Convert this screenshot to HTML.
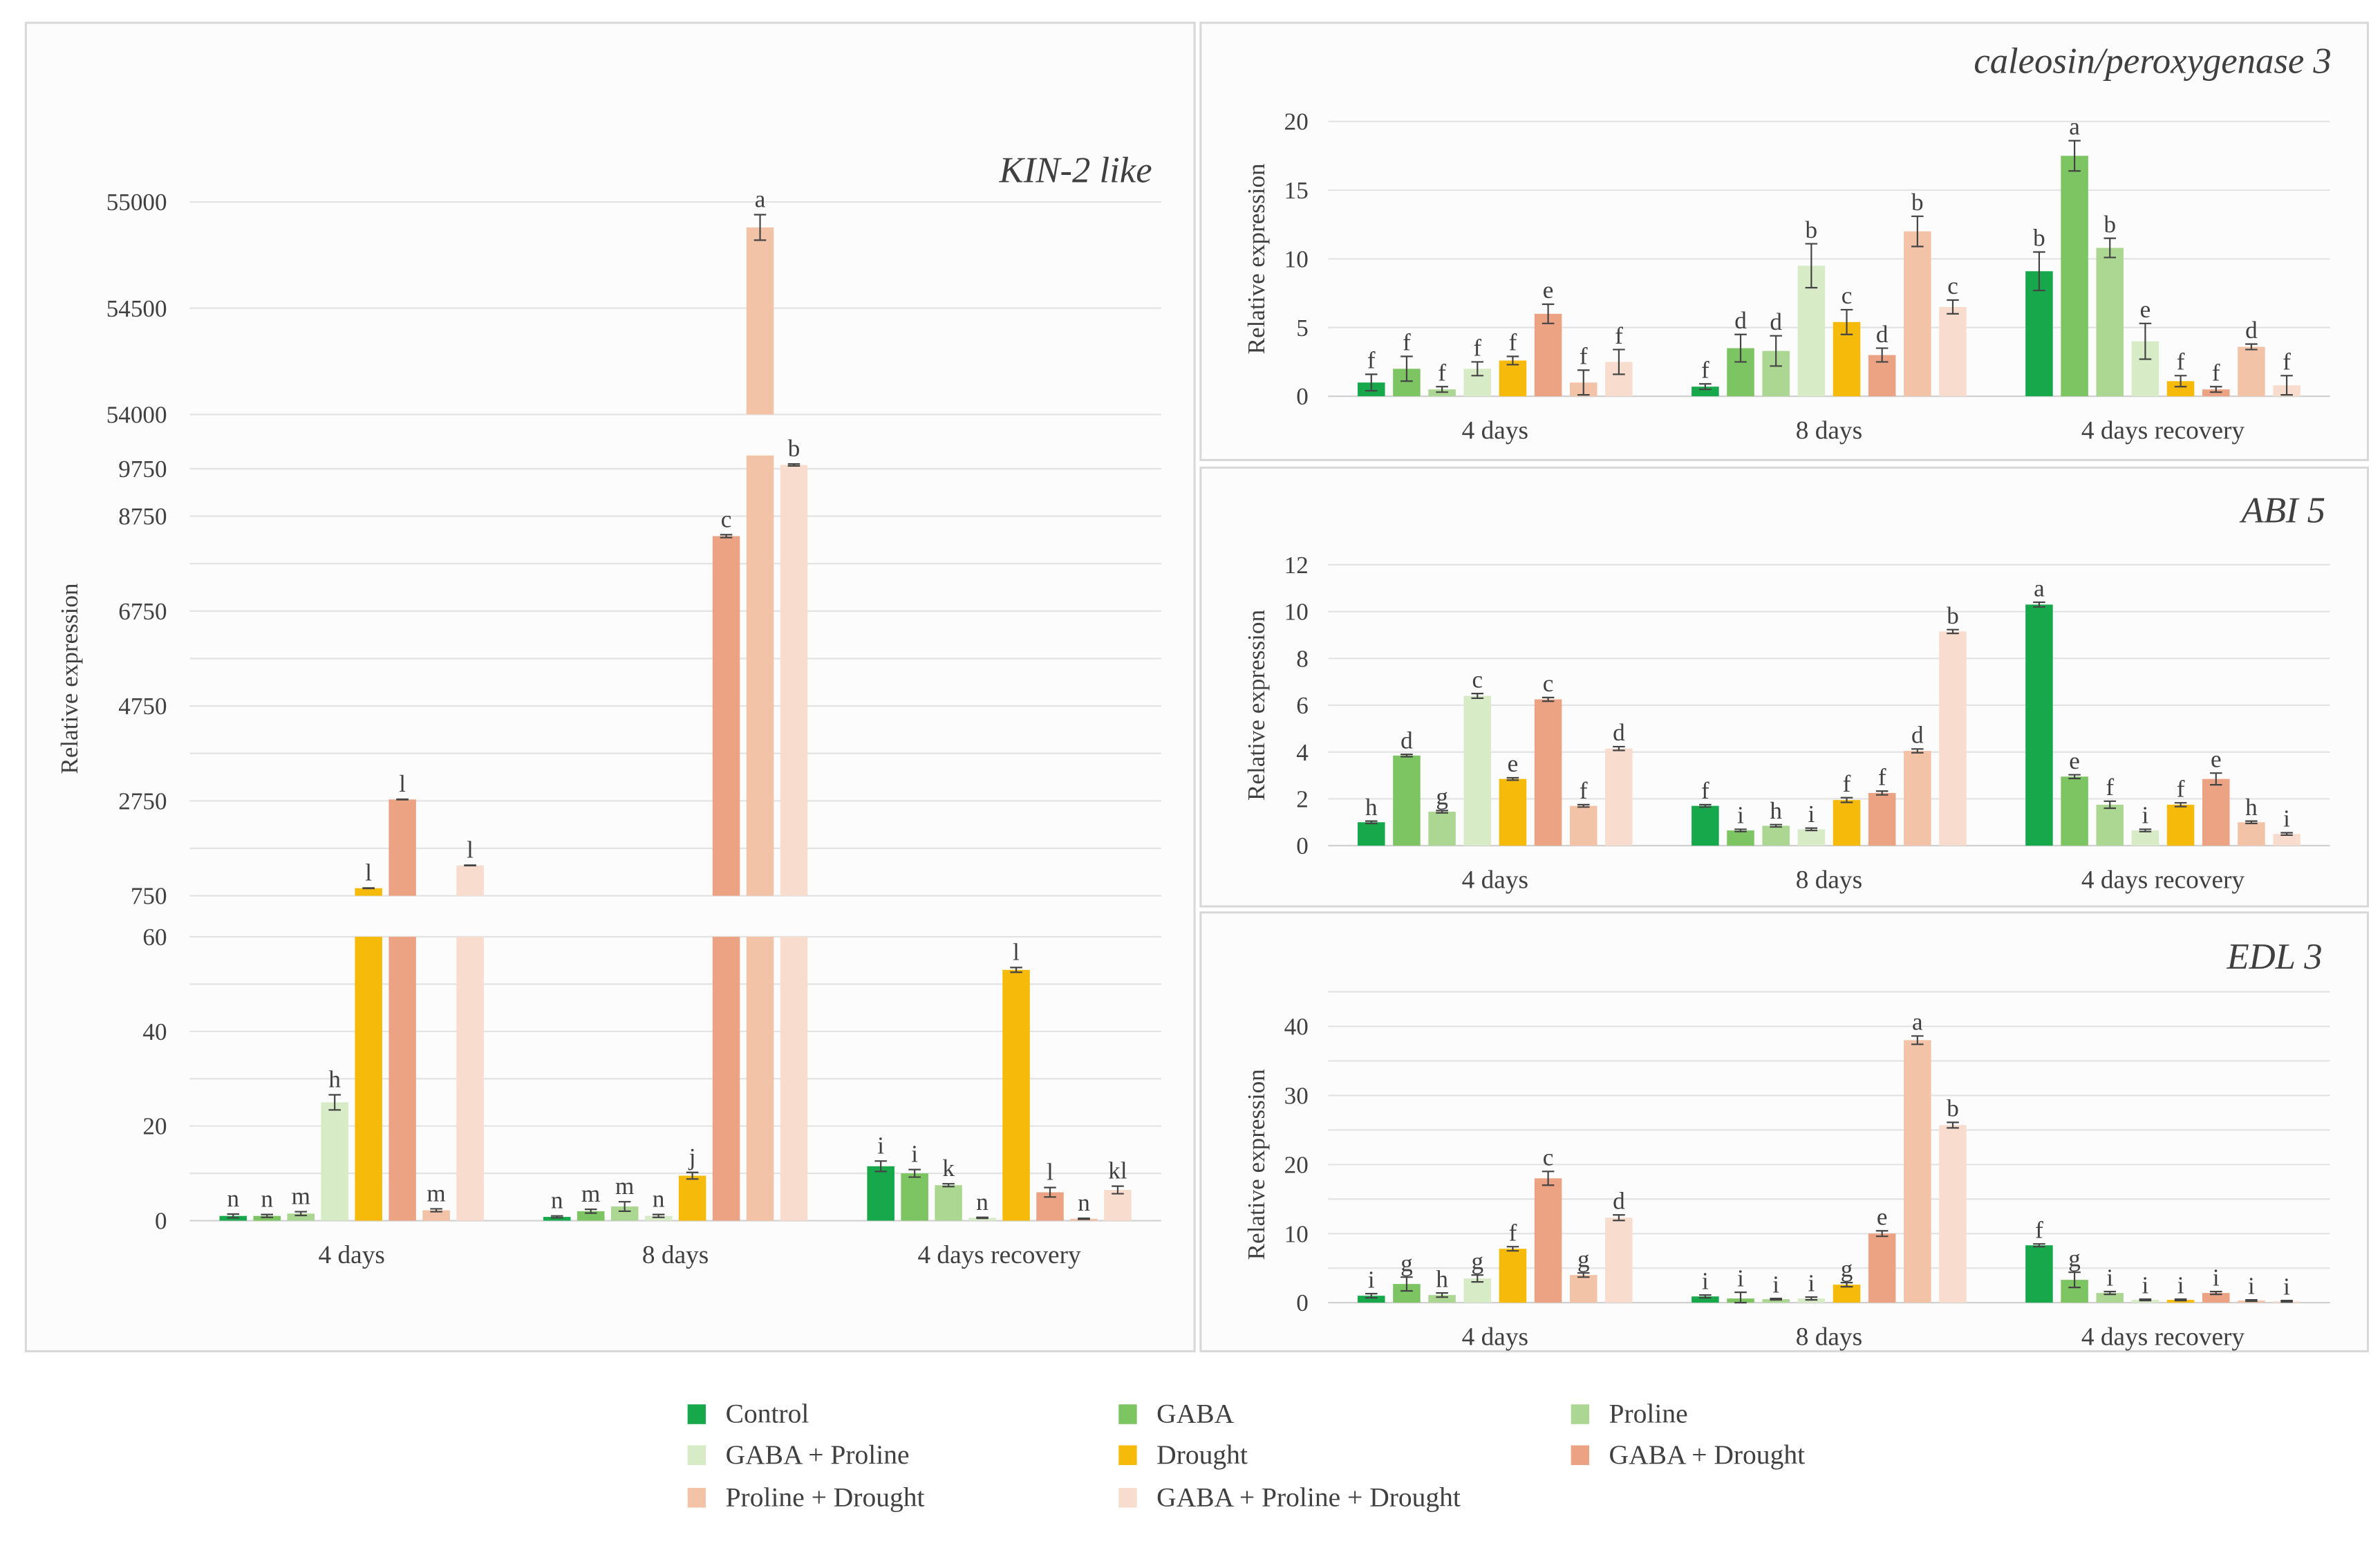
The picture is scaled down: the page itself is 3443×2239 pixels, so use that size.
<!DOCTYPE html>
<html><head><meta charset="utf-8"><style>
html,body{margin:0;padding:0;background:#fff;width:3443px;height:2239px;overflow:hidden}
svg{display:block}
text{font-family:"Liberation Serif",serif;fill:#404040}
</style></head><body>
<svg id="chart" xmlns="http://www.w3.org/2000/svg" width="3443" height="2239" viewBox="0 0 1568 1019.6" preserveAspectRatio="none"></svg>
<script>
// ---- shared data ----
const categories = ["4 days", "8 days", "4 days recovery"];
const seriesNames = ["Control","GABA","Proline","GABA + Proline","Drought","GABA + Drought","Proline + Drought","GABA + Proline + Drought"];
const seriesColors = ["#16a84a","#7dc463","#acd792","#d6ebc6","#f6bb0a","#eca384","#f3c3a8","#f8ddcf"];

// KIN-2 like (rows = categories, columns = series)
const kinValues = [
  [1, 1, 1.5, 25, 910, 2780, 2.2, 1390],
  [0.8, 2, 3, 1, 9.5, 8330, 54880, 9830],
  [11.5, 10, 7.5, 0.6, 53, 6, 0.4, 6.5]];
const kinErrors = [
  [0.4, 0.3, 0.4, 1.6, 5, 5, 0.3, 5],
  [0.2, 0.4, 1, 0.3, 0.7, 30, 60, 20],
  [1.1, 0.8, 0.3, 0.1, 0.5, 1, 0.1, 0.8]];
const kinLetters = [
  ["n","n","m","h","l","l","m","l"],
  ["n","m","m","n","j","c","a","b"],
  ["i","i","k","n","l","l","n","kl"]];
const kinTicks1 = [0, 20, 40, 60];
const kinTicks2 = [750, 2750, 4750, 6750, 8750, 9750];
const kinTicks3 = [54000, 54500, 55000];

// caleosin/peroxygenase 3
const calValues = [
  [1, 2, 0.5, 2, 2.6, 6, 1, 2.5],
  [0.7, 3.5, 3.3, 9.5, 5.4, 3, 12, 6.5],
  [9.1, 17.5, 10.8, 4, 1.1, 0.5, 3.6, 0.8]];
const calErrors = [
  [0.6, 0.9, 0.2, 0.5, 0.3, 0.7, 0.9, 0.9],
  [0.2, 1, 1.1, 1.6, 0.9, 0.5, 1.1, 0.5],
  [1.4, 1.1, 0.7, 1.3, 0.4, 0.2, 0.2, 0.7]];
const calLetters = [
  ["f","f","f","f","f","e","f","f"],
  ["f","d","d","b","c","d","b","c"],
  ["b","a","b","e","f","f","d","f"]];
const calTicks = [0, 5, 10, 15, 20];

// ABI 5
const abiValues = [
  [1, 3.85, 1.45, 6.4, 2.85, 6.25, 1.7, 4.15],
  [1.7, 0.65, 0.85, 0.7, 1.95, 2.25, 4.05, 9.15],
  [10.3, 2.95, 1.75, 0.65, 1.75, 2.85, 1.0, 0.5]];
const abiErrors = [
  [0.05,0.05,0.05,0.1,0.05,0.08,0.05,0.08],
  [0.05,0.05,0.05,0.05,0.1,0.08,0.08,0.08],
  [0.1,0.08,0.15,0.05,0.08,0.25,0.05,0.05]];
const abiLetters = [
  ["h","d","g","c","e","c","f","d"],
  ["f","i","h","i","f","f","d","b"],
  ["a","e","f","i","f","e","h","i"]];
const abiTicks = [0, 2, 4, 6, 8, 10, 12];

// EDL 3
const edlValues = [
  [1, 2.7, 1.1, 3.5, 7.8, 18, 4, 12.3],
  [0.9, 0.6, 0.5, 0.6, 2.6, 10, 38, 25.7],
  [8.3, 3.3, 1.4, 0.4, 0.4, 1.4, 0.3, 0.2]];
const edlErrors = [
  [0.3,1,0.3,0.5,0.3,1,0.3,0.4],
  [0.2,0.9,0.1,0.2,0.3,0.4,0.6,0.4],
  [0.2,1.1,0.2,0.1,0.1,0.2,0.1,0.1]];
const edlLetters = [
  ["i","g","h","g","f","c","g","d"],
  ["i","i","i","i","g","e","a","b"],
  ["f","g","i","i","i","i","i","i"]];
const edlTicks = [0, 10, 20, 30, 40];

const NS = "http://www.w3.org/2000/svg";
const svg = document.getElementById("chart");
function el(tag, attrs, parent, txt) {
  const e = document.createElementNS(NS, tag);
  for (const k in attrs) e.setAttribute(k, attrs[k]);
  if (txt !== undefined) e.textContent = txt;
  (parent || svg).appendChild(e);
  return e;
}
function lin(d0, d1, r0, r1) { return v => r0 + (v - d0) * (r1 - r0) / (d1 - d0); }

// panels
function panel(x, y, w, h, name) {
  const r = el("rect", {x, y, width: w, height: h, fill: "#fcfcfc", stroke: "#d8d8d8", "stroke-width": 1.4});
  
  
}
panel(17, 15, 770, 875, "kin2-panel");
panel(791, 15, 769, 288, "caleosin-panel");
panel(791, 308, 769, 289, "abi5-panel");
panel(791, 601, 769, 289, "edl3-panel");

function errBar(g, cx, yTop, yBot) {
  el("line", {x1: cx, x2: cx, y1: yTop, y2: yBot, stroke: "#444", "stroke-width": 1}, g);
  el("line", {x1: cx - 4, x2: cx + 4, y1: yTop, y2: yTop, stroke: "#444", "stroke-width": 1}, g);
  el("line", {x1: cx - 4, x2: cx + 4, y1: yBot, y2: yBot, stroke: "#444", "stroke-width": 1}, g);
}

// simple chart
function simpleChart(cfg) {
  const g = el("g", {});
  
  
  const y = lin(0, cfg.max, cfg.y0, cfg.yTop);
  // gridlines
  for (let v = 0; v <= cfg.gridMax; v += cfg.gridStep) {
    el("line", {x1: cfg.x0, x2: cfg.x1, y1: y(v), y2: y(v), stroke: v === 0 ? "#d0d0d0" : "#e3e3e3", "stroke-width": 1}, g);
  }
  cfg.ticks.forEach(t => {
    const tx = el("text", {x: cfg.x0 - 13, y: y(t) + 5.5, "text-anchor": "end", "font-size": 16}, g, String(t));
    
    
  });
  const yl = el("text", {x: 0, y: 0, transform: `translate(${cfg.x0 - 42},${(cfg.y0 + cfg.yTop) / 2}) rotate(-90)`, "text-anchor": "middle", "font-size": 16}, g, "Relative expression");
  
  
  const tt = el("text", {x: cfg.titleX, y: cfg.titleY, "text-anchor": "end", "font-size": 24, "font-style": "italic"}, g, cfg.title);
  
  
  const cw = (cfg.x1 - cfg.x0) / categories.length;
  categories.forEach((c, ci) => {
    const cx = cfg.x0 + cw * (ci + 0.5);
    const cl = el("text", {x: cx, y: cfg.y0 + 28, "text-anchor": "middle", "font-size": 17}, g, c);
    
    
    cfg.values[ci].forEach((v, si) => {
      const bx = cx + (si - 3.5) * cfg.pitch;
      const b = el("rect", {x: bx - cfg.bw / 2, y: y(v), width: cfg.bw, height: cfg.y0 - y(v), fill: seriesColors[si]}, g);
      
      
      const e = cfg.errors[ci][si];
      errBar(g, bx, y(v + e), y(Math.max(0, v - e)));
      const lt = el("text", {x: bx, y: y(v + e) - 4, "text-anchor": "middle", "font-size": 16}, g, cfg.letters[ci][si]);
      
      
    });
  });
}

simpleChart({name: "caleosin-chart", title: "caleosin/peroxygenase 3", titleX: 1536, titleY: 48,
  x0: 875, x1: 1535, y0: 261, yTop: 80, max: 20, gridMax: 20, gridStep: 5, ticks: calTicks,
  values: calValues, errors: calErrors, letters: calLetters, pitch: 23.3, bw: 18});
simpleChart({name: "abi5-chart", title: "ABI 5", titleX: 1532, titleY: 344,
  x0: 875, x1: 1535, y0: 557, yTop: 372, max: 12, gridMax: 12, gridStep: 2, ticks: abiTicks,
  values: abiValues, errors: abiErrors, letters: abiLetters, pitch: 23.3, bw: 18});
simpleChart({name: "edl3-chart", title: "EDL 3", titleX: 1530, titleY: 638,
  x0: 875, x1: 1535, y0: 858, yTop: 676, max: 40, gridMax: 45, gridStep: 5, ticks: edlTicks,
  values: edlValues, errors: edlErrors, letters: edlLetters, pitch: 23.3, bw: 18});

// KIN-2 like broken-axis chart
(function () {
  const g = el("g", {});
  
  
  const x0 = 125, x1 = 765;
  const segs = [
    {d0: 0, d1: 60, r0: 804, r1: 617, gridStep: 10, ticks: kinTicks1},
    {d0: 750, d1: 10030, r0: 590, r1: 300, gridStep: 1000, ticks: kinTicks2},
    {d0: 54000, d1: 55000, r0: 273, r1: 133, gridStep: 500, ticks: kinTicks3}];
  segs.forEach(s => {
    s.y = lin(s.d0, s.d1, s.r0, s.r1);
    const top = s.d0 === 750 ? 9750 : s.d1;
    for (let v = s.d0; v <= top + 0.1; v += s.gridStep) {
      el("line", {x1: x0, x2: x1, y1: s.y(v), y2: s.y(v), stroke: v === 0 ? "#d0d0d0" : "#e3e3e3", "stroke-width": 1}, g);
    }
    s.ticks.forEach(t => {
      const tx = el("text", {x: 110, y: s.y(t) + 5.5, "text-anchor": "end", "font-size": 16}, g, String(t));
      
      
    });
  });
  const yl = el("text", {x: 0, y: 0, transform: "translate(51,447) rotate(-90)", "text-anchor": "middle", "font-size": 16}, g, "Relative expression");
  
  
  const tt = el("text", {x: 759, y: 120, "text-anchor": "end", "font-size": 24, "font-style": "italic"}, g, "KIN-2 like");
  
  
  const cw = (x1 - x0) / 3, pitch = 22.3, bw = 18;
  categories.forEach((c, ci) => {
    const cx = x0 + cw * (ci + 0.5);
    const cl = el("text", {x: cx, y: 832, "text-anchor": "middle", "font-size": 17}, g, c);
    
    
    kinValues[ci].forEach((v, si) => {
      const bx = cx + (si - 3.5) * pitch;
      let topY = null, seg = null;
      segs.forEach(s => {
        if (v > s.d0) {
          const hv = Math.min(v, s.d1);
          const b = el("rect", {x: bx - bw / 2, y: s.y(hv), width: bw, height: s.r0 - s.y(hv), fill: seriesColors[si]}, g);
          
          
          if (v <= s.d1) { topY = s.y(v); seg = s; }
        }
      });
      if (seg) {
        const e = kinErrors[ci][si];
        errBar(g, bx, seg.y(v + e), seg.y(Math.max(seg.d0, v - e)));
        const lt = el("text", {x: bx, y: seg.y(v + e) - 5, "text-anchor": "middle", "font-size": 16}, g, kinLetters[ci][si]);
        
        
      }
    });
  });
})();

// legend
(function () {
  const g = el("g", {});
  
  
  const colX = [453, 737, 1035], rowY = [931, 958, 986];
  seriesNames.forEach((n, i) => {
    const col = i % 3, row = Math.floor(i / 3);
    const e = el("g", {}, g);
    
    
    el("rect", {x: colX[col], y: rowY[row] - 6, width: 12, height: 13, fill: seriesColors[i]}, e);
    el("text", {x: colX[col] + 25, y: rowY[row] + 6, "font-size": 18}, e, n);
  });
})();
</script>
</body></html>
